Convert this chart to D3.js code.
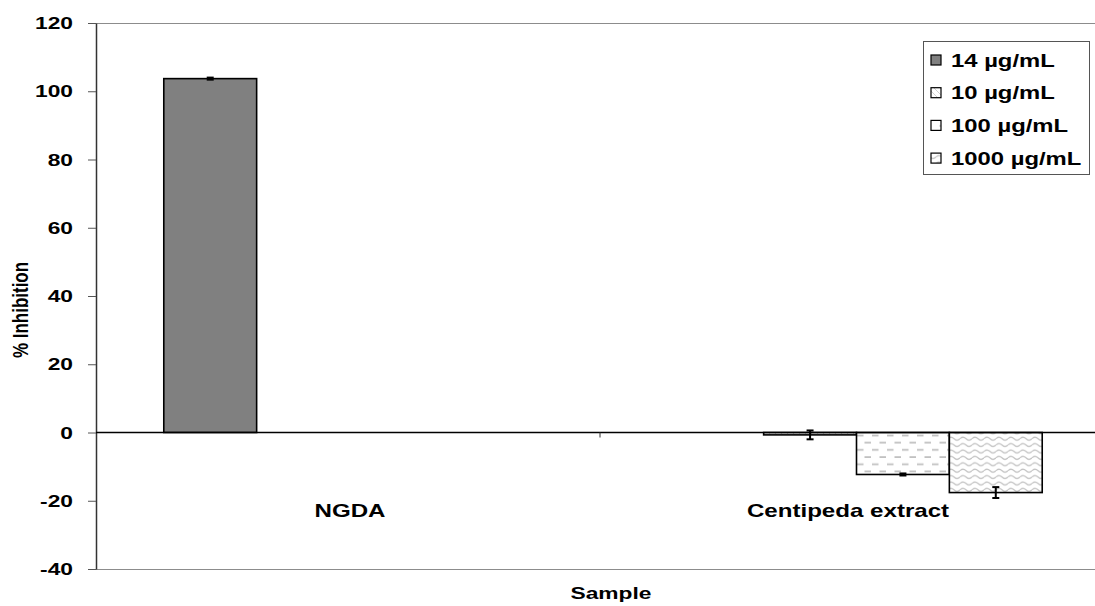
<!DOCTYPE html>
<html>
<head>
<meta charset="utf-8">
<script src="https://cdn.jsdelivr.net/npm/d3@7/dist/d3.min.js"></script>
<style>
  html, body { margin: 0; padding: 0; background: #fff; }
  svg { display: block; }
  text { font-family: "Liberation Sans", Arial, sans-serif; font-weight: bold; fill: #000; }
</style>
</head>
<body>
<div id="chart"></div>
<script>
// Samples on the x axis
const categories = ["NGDA", "Centipeda extract"];
// Concentration series (legend order)
const seriesNames = ["14 µg/mL", "10 µg/mL", "100 µg/mL", "1000 µg/mL"];
// Mean % inhibition per sample, one entry per series (null = not tested)
const valuesNGDA = [103.7, null, null, null];
const valuesCentipeda = [null, -0.7, -12.3, -17.6];
// Error bar half-widths
const errorsNGDA = [0.3, null, null, null];
const errorsCentipeda = [null, 1.3, 0.3, 1.6];
// Y axis ticks
const yTicks = [-40, -20, 0, 20, 40, 60, 80, 100, 120];

const W = 1095, H = 606;
const SX = 1.34;           // horizontal stretch applied to all text
const FS = 17;             // font size
const plot = { left: 96, right: 1110, top: 23, bottom: 569 };

const svg = d3.select("#chart").append("svg").attr("width", W).attr("height", H);

// Fill patterns
const defs = svg.append("defs");
const fills = ["#808080", "url(#pat10)", "url(#pat100)", "url(#pat1000)"];

const p10 = defs.append("pattern").attr("id", "pat10").attr("patternUnits", "userSpaceOnUse")
  .attr("width", 6).attr("height", 6);
p10.append("rect").attr("width", 6).attr("height", 6).attr("fill", "#fff");
p10.append("path").attr("d", "M0,0 L6,6").attr("stroke", "#d0d0d0").attr("stroke-width", 1);

const p100 = defs.append("pattern").attr("id", "pat100").attr("patternUnits", "userSpaceOnUse")
  .attr("width", 15).attr("height", 14.4);
p100.append("rect").attr("width", 15).attr("height", 14.4).attr("fill", "#fff");
p100.append("path").attr("d", "M2,3.5 h6.5 M9.5,10.7 h6.5 M-5.5,10.7 h6.5")
  .attr("stroke", "#bdbdbd").attr("stroke-width", 1.6);

const p1000 = defs.append("pattern").attr("id", "pat1000").attr("patternUnits", "userSpaceOnUse")
  .attr("width", 12).attr("height", 6.4);
p1000.append("rect").attr("width", 12).attr("height", 6.4).attr("fill", "#fff");
p1000.append("path").attr("d", "M0,3.5 Q3,0.5 6,3.5 T12,3.5")
  .attr("fill", "none").attr("stroke", "#c4c4c4").attr("stroke-width", 1.2);

// Scales
const x0 = d3.scaleBand().domain(categories).range([plot.left, plot.right]).padding(0);
const x1 = d3.scaleBand().domain(seriesNames).range([0, x0.bandwidth()])
  .paddingInner(0).paddingOuter(0.73);
const y = d3.scaleLinear().domain([-40, 120]).range([plot.bottom, plot.top]);

// helper for stretched text
function label(g, txt, x, yPos, anchor, size) {
  return g.append("text")
    .attr("transform", `translate(${x},${yPos}) scale(${SX},1)`)
    .attr("text-anchor", anchor || "start")
    .attr("font-size", size || FS)
    .text(txt);
}

// Plot-area frame (top and bottom borders)
svg.append("line").attr("x1", plot.left).attr("x2", plot.right)
  .attr("y1", plot.top + 0.5).attr("y2", plot.top + 0.5)
  .attr("stroke", "#8c8c8c").attr("stroke-width", 1);
svg.append("line").attr("x1", plot.left).attr("x2", plot.right)
  .attr("y1", plot.bottom + 0.5).attr("y2", plot.bottom + 0.5)
  .attr("stroke", "#8c8c8c").attr("stroke-width", 1);

// Y axis
const yAxis = svg.append("g").attr("transform", `translate(${plot.left},0)`)
  .call(d3.axisLeft(y).tickValues(yTicks).tickSize(8).tickSizeOuter(0).tickFormat(""));
yAxis.select(".domain").attr("stroke", "#333").attr("stroke-width", 1.5);
yAxis.selectAll(".tick line").attr("stroke", "#555");
yTicks.forEach(t => label(svg, String(t), 73, y(t) + 6, "end"));

// Bars
const rows = [
  { cat: categories[0], vals: valuesNGDA, errs: errorsNGDA },
  { cat: categories[1], vals: valuesCentipeda, errs: errorsCentipeda }
];
const bars = [];
rows.forEach(r => r.vals.forEach((v, i) => {
  if (v !== null) bars.push({ cat: r.cat, s: seriesNames[i], i, v, e: r.errs[i] });
}));

svg.append("g").selectAll("rect").data(bars).join("rect")
  .attr("x", d => x0(d.cat) + x1(d.s))
  .attr("width", x1.bandwidth())
  .attr("y", d => y(Math.max(0, d.v)))
  .attr("height", d => Math.abs(y(d.v) - y(0)))
  .attr("fill", d => fills[d.i])
  .attr("stroke", "#000").attr("stroke-width", 1.6);

// Zero line and category tick
svg.append("line").attr("x1", plot.left).attr("x2", plot.right)
  .attr("y1", y(0)).attr("y2", y(0)).attr("stroke", "#000").attr("stroke-width", 1.5);
svg.append("g").selectAll("line").data(categories.slice(1)).join("line")
  .attr("x1", d => x0(d) - 3).attr("x2", d => x0(d) - 3)
  .attr("y1", y(0)).attr("y2", y(0) + 5).attr("stroke", "#333").attr("stroke-width", 1);

// Error bars
const eb = svg.append("g").attr("stroke", "#000").attr("stroke-width", 2);
bars.forEach(d => {
  const cx = x0(d.cat) + x1(d.s) + x1.bandwidth() / 2;
  const yt = y(d.v + d.e), yb = y(d.v - d.e);
  eb.append("line").attr("x1", cx).attr("x2", cx).attr("y1", yt).attr("y2", yb);
  eb.append("line").attr("x1", cx - 3.5).attr("x2", cx + 3.5).attr("y1", yt).attr("y2", yt);
  eb.append("line").attr("x1", cx - 3.5).attr("x2", cx + 3.5).attr("y1", yb).attr("y2", yb);
});

// Category labels
label(svg, categories[0], 350, 517, "middle", 18);
label(svg, categories[1], 848, 517, "middle", 18);

// Axis titles
label(svg, "Sample", 611, 599, "middle");
svg.append("text")
  .attr("transform", `translate(28,310) scale(${SX},1) rotate(-90)`)
  .attr("text-anchor", "middle").attr("font-size", 17)
  .text("% Inhibition");

// Legend
const lg = svg.append("g");
lg.append("rect").attr("x", 923.5).attr("y", 41.5).attr("width", 166).attr("height", 133)
  .attr("fill", "#fff").attr("stroke", "#555").attr("stroke-width", 1);
seriesNames.forEach((s, i) => {
  const cy = 60 + i * 32.7;
  lg.append("rect").attr("x", 931).attr("y", cy - 5).attr("width", 10).attr("height", 10)
    .attr("fill", fills[i]).attr("stroke", "#000").attr("stroke-width", 1.2);
  label(lg, s, 951, cy + 6.5, "start", 17.8);
});
</script>
</body>
</html>
